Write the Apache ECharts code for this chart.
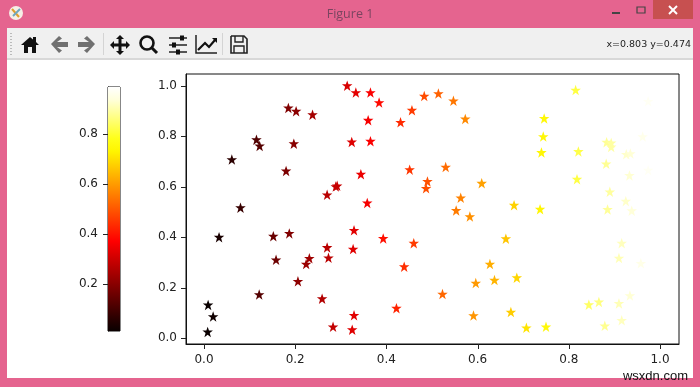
<!DOCTYPE html>
<html><head><meta charset="utf-8">
<style>html,body{margin:0;padding:0;background:#E5648F}#c{width:700px;height:387px}</style>
<script src="https://cdn.jsdelivr.net/npm/echarts@6/dist/echarts.min.js"></script>
</head><body><div id="c"></div>
<script>
const xValues=[.314,.333,.185,.202,.238,.115,.122,.197,.324,.061,.180,.292,.289,.270,.080,.344,
.033,.152,.187,.329,.270,.327,.158,.231,.273,.224,.206,.121,.259,.009,.020,.329,.283,.325,.008,
.365,.384,.483,.514,.547,.456,.431,.573,.360,.815,.974,.746,.744,.365,.740,.821,.883,.893,.893,.962,.926,.935,.882,
.451,.530,.490,.487,.609,.818,.933,.974,.358,.563,.553,.583,.680,.737,.890,.925,.885,.938,
.393,.460,.662,.916,.910,.958,.439,.627,.596,.637,.686,.523,.422,.591,.673,.707,.750,.879,.844,.866,.910,.934,.916];
const yValues=[1.001,.974,.913,.900,.886,.787,.762,.771,.778,.708,.663,.604,.601,.568,.517,.650,
.400,.404,.415,.427,.359,.353,.310,.316,.318,.293,.225,.172,.156,.131,.085,.090,.044,.033,.024,
.974,.934,.960,.970,.941,.904,.856,.869,.864,.984,.939,.871,.799,.781,.736,.740,.777,.774,.758,.799,.729,.732,.691,
.668,.678,.621,.594,.614,.630,.645,.666,.536,.556,.506,.482,.527,.511,.580,.543,.510,.505,
.395,.376,.394,.376,.317,.296,.283,.293,.218,.230,.239,.174,.118,.089,.103,.040,.044,.048,.132,.143,.137,.168,.070];
const xTicks=[0,.2,.4,.6,.8,1];
const yTicks=[0,.2,.4,.6,.8,1];
const barTicks=[.2,.4,.6,.8];
const barRange=[.01,.99];
const xRange=[-.0395,1.0417];
const yRange=[-.024,1.0475];
const hotStops=['#0a0000','#2b0000','#4f0000','#720000','#950000','#b80000','#db0000','#ff0000','#ff2300','#ff4600','#ff6900','#ff8c00','#ffaf00','#ffd200','#fff500','#ffff1a','#ffff5a','#ffff9a','#ffffda','#ffffff'];
const star='path://M50 2L62 36L98 36L69 58L80 94L50 72L20 94L31 58L2 36L38 36Z';
const font='"DejaVu Sans"';
const ink='#222';
function tickAxis(ticks,margin,extra){return Object.assign({type:'value',splitLine:{show:false},
 axisLine:{show:true,onZero:false,lineStyle:{color:'#111',width:1}},
 axisTick:{show:false},
 axisLabel:{show:true,customValues:ticks,color:ink,fontFamily:font,fontSize:12,margin:margin,formatter:v=>v.toFixed(1)}},extra);}
// chrome helper: "M.. L.. Z" strings become polygon / polyline elements
function P(d,o){
 const subs=d.match(/M[^M]*/g);
 return {type:'group',silent:true,children:subs.map(s=>{
  const closed=/Z/.test(s);
  const n=s.match(/-?[\d.]+/g).map(Number);const pts=[];
  for(let i=0;i<n.length;i+=2)pts.push([n[i],n[i+1]]);
  return {type:closed?'polygon':'polyline',silent:true,shape:{points:pts},style:o.style};
 })};
}
const fillS=c=>({style:{fill:c}});
const strokeS=(c,w)=>({style:{fill:'none',stroke:c,lineWidth:w}});
const R=(x,y,w,h,c,z)=>({type:'rect',silent:true,z:z||-5,shape:{x,y,width:w,height:h},style:{fill:c}});
const T=(x,y,t,c,f,s,a)=>({type:'text',silent:true,z:5,x,y,style:{text:t,fill:c,fontFamily:f,fontSize:s,align:a||'left',verticalAlign:'middle'}});
const chrome=[
 R(7,28,686,30,'#F0F0F0'),R(7,58,686,2,'#D8D8D8'),R(7,60,686,318,'#FFFFFF'),
 R(653,0,40,19,'#C75050'),
 {type:'circle',silent:true,shape:{cx:16,cy:13,r:7},style:{fill:'#F6EFE6'}},
 P('M12 9L19 17',strokeS('#E0A030',2)),P('M20 9L13 16',strokeS('#6FA8C0',2)),
 T(350,14,'Figure 1','#7A4560','"Open Sans"',12.5,'center'),
 P('M612 13L620 13',strokeS('#444',2)),
 {type:'rect',silent:true,shape:{x:637,y:7,width:8,height:6},style:{fill:'none',stroke:'#444',lineWidth:1.2}},
 P('M669 6L677 14M677 6L669 14',strokeS('#fff',2)),
 {type:'line',silent:true,shape:{x1:11,y1:33,x2:11,y2:55},style:{stroke:'#bbb',lineWidth:2,lineDash:[1,2]}},
 P('M21 45L30 37L33 39.5L33 37L36 37L36 42L39 45L36 45L36 53L32 53L32 47L28 47L28 53L24 53L24 45Z',fillS('#111')),
 P('M51 44L59 36L62 38.5L57 42L68 42L68 47L57 47L62 50.5L59 53Z',fillS('#707070')),
 P('M95 44L87 36L84 38.5L89 42L78 42L78 47L89 47L84 50.5L87 53Z',fillS('#707070')),
 R(103,33,1,22,'#D4D4D4'),
 P('M120 35L124 39L121.5 39L121.5 43.5L126 43.5L126 41L130 45L126 49L126 46.5L121.5 46.5L121.5 51L124 51L120 55L116 51L118.5 51L118.5 46.5L114 46.5L114 49L110 45L114 41L114 43.5L118.5 43.5L118.5 39L116 39Z',fillS('#111')),
 {type:'circle',silent:true,shape:{cx:147,cy:43,r:6.5},style:{fill:'none',stroke:'#111',lineWidth:2.6}},
 P('M152 48L157 53',strokeS('#111',3)),
 P('M169 38L187 38M169 45L187 45M169 52L187 52',strokeS('#222',1.5)),
 R(180,35.5,4,5,'#111',1),R(172,42.5,4,5,'#111',1),R(176,49.5,4,5,'#111',1),
 P('M196 35L196 53L217 53',strokeS('#222',1.5)),
 P('M198 50L205 43L209 47L215 40',strokeS('#111',2.2)),P('M212 38L217 38L217 43Z',fillS('#111')),
 R(222,33,1,22,'#D4D4D4'),
 P('M231 36L244 36L247 39L247 53L231 53L231 36',strokeS('#222',1.6)),
 P('M235 36L235 42L243 42L243 36M234 53L234 46L244 46L244 53',strokeS('#222',1.4)),
 T(691,45,'x=0.803 y=0.474','#222',font,9.5,'right'),
 T(688,376.5,'wsxdn.com','#111','"Liberation Sans"',13,'right')
];
const chart=echarts.init(document.getElementById('c'),null,{renderer:'canvas'});
chart.setOption({
 animation:false,backgroundColor:'#E5648F',
 graphic:{elements:chrome},
 grid:[
  {left:186,right:21,top:74,bottom:43,show:true,borderColor:'#111',borderWidth:1,backgroundColor:'transparent'},
  {left:108,width:12,top:87,height:244,show:true,borderColor:'#111',borderWidth:1,backgroundColor:'transparent'}
 ],
 xAxis:[
  tickAxis(xTicks,10,{gridIndex:0,min:xRange[0],max:xRange[1],position:'bottom'}),
  {gridIndex:1,type:'value',min:0,max:1,show:false}
 ],
 yAxis:[
  tickAxis(yTicks,9,{gridIndex:0,min:yRange[0],max:yRange[1]}),
  tickAxis(barTicks,10,{gridIndex:1,min:barRange[0],max:barRange[1]})
 ],
 visualMap:{show:false,seriesIndex:0,dimension:0,min:barRange[0],max:barRange[1],inRange:{color:hotStops}},
 series:[
  {type:'scatter',xAxisIndex:0,yAxisIndex:0,symbol:star,symbolSize:10.5,itemStyle:{opacity:1},z:3,
   data:xValues.map((x,i)=>[x,yValues[i]])},
  {type:'custom',xAxisIndex:1,yAxisIndex:1,silent:true,data:[[0,barRange[0],1,barRange[1]]],
   renderItem:(p,api)=>{const a=api.coord([api.value(0),api.value(3)]),b=api.coord([api.value(2),api.value(1)]);
    return {type:'rect',shape:{x:a[0],y:a[1],width:b[0]-a[0],height:b[1]-a[1]},
     style:{fill:new echarts.graphic.LinearGradient(0,1,0,0,hotStops.map((c,i)=>({offset:i/(hotStops.length-1),color:c})))}};},
   encode:{x:[0,2],y:[1,3]}}
 ]
});
// tick marks, placed through the axes' own scales
const snap=v=>Math.round(v)+.5;
const tickLine=(x1,y1,x2,y2)=>({type:'line',silent:true,z:6,shape:{x1,y1,x2,y2},style:{stroke:ink,lineWidth:1}});
const tickEls=[];
xTicks.forEach(t=>{const p=chart.convertToPixel({gridIndex:0},[t,yRange[0]]);tickEls.push(tickLine(snap(p[0]),p[1],snap(p[0]),p[1]+5));});
yTicks.forEach(t=>{const p=chart.convertToPixel({gridIndex:0},[xRange[0],t]);tickEls.push(tickLine(p[0],snap(p[1]),p[0]-5,snap(p[1])));});
barTicks.forEach(t=>{const p=chart.convertToPixel({gridIndex:1},[0,t]);tickEls.push(tickLine(p[0],snap(p[1]),p[0]-5,snap(p[1])));});
chart.setOption({graphic:{elements:chrome.concat(tickEls)}});
</script></body></html>
